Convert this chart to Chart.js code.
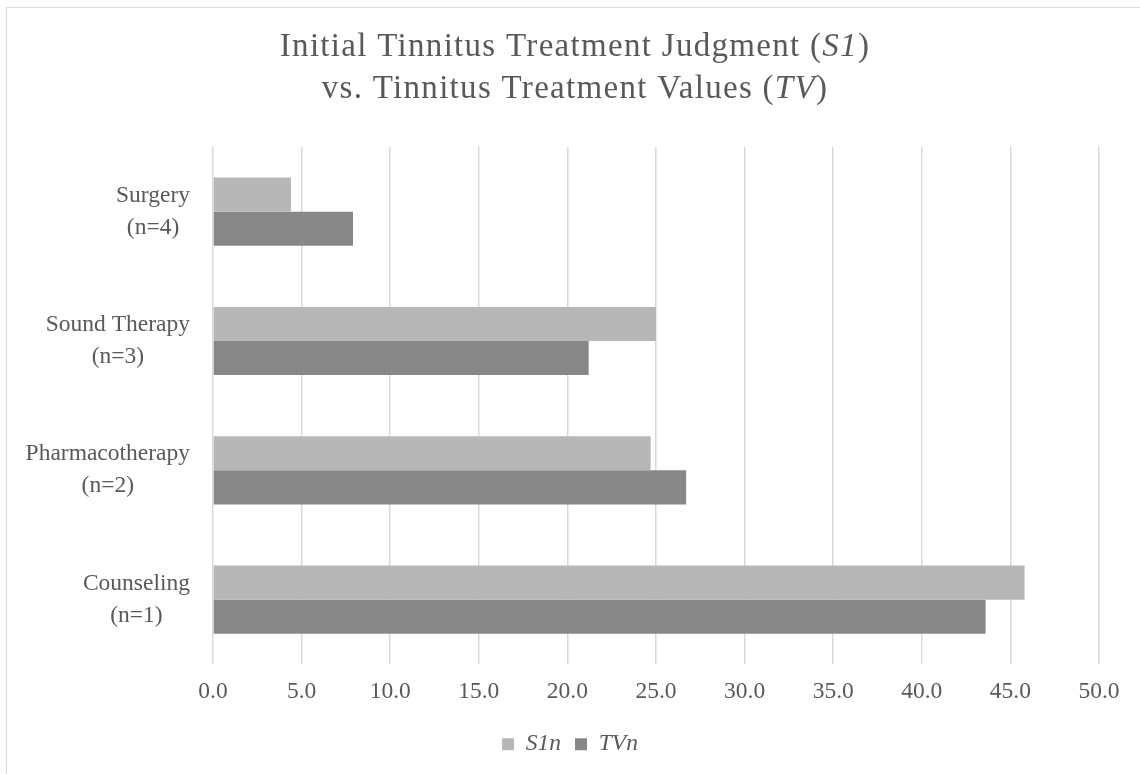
<!DOCTYPE html>
<html>
<head>
<meta charset="utf-8">
<script src="https://cdn.jsdelivr.net/npm/chart.js@4/dist/chart.umd.min.js"></script>
<style>
  html, body { margin: 0; padding: 0; background: #fff; overflow: hidden; }
  #frame { position: absolute; left: 6px; top: 7px; width: 1200px; height: 840px; border: 1.5px solid #d9d9d9; }
  #wrap { position: absolute; left: 0; top: 0; width: 1140px; height: 774px; }
</style>
</head>
<body>
<div id="frame"></div>
<div id="wrap"><canvas id="myChart"></canvas></div>
<script>
const categories = [['Surgery', '(n=4)'], ['Sound Therapy', '(n=3)'], ['Pharmacotherapy', '(n=2)'], ['Counseling', '(n=1)']];
const s1Values = [4.4, 25.0, 24.7, 45.8];
const tvValues = [7.9, 21.2, 26.7, 43.6];
const seriesNames = ['S1n', 'TVn'];
const xTicksMax = 50;
const xTickStep = 5;

const FONT = '"Liberation Serif", "Times New Roman", serif';
const TEXT = '#595959';

// title with italic pieces, drawn on the canvas
const titleLines = [
    [['Initial Tinnitus Treatment Judgment (', 'normal'], ['S1', 'italic'], [')', 'normal']],
    [['vs. Tinnitus Treatment Values (', 'normal'], ['TV', 'italic'], [')', 'normal']]
];

const titlePlugin = {
    id: 'mixedTitle',
    afterDraw(chart) {
        const ctx = chart.ctx;
        ctx.save();
        ctx.fillStyle = TEXT;
        ctx.textBaseline = 'alphabetic';
        ctx.letterSpacing = '1.3px';
        const size = 33;
        const baselines = [56, 98];
        titleLines.forEach((parts, i) => {
            let total = 0;
            parts.forEach(p => {
                ctx.font = p[1] + ' ' + size + 'px ' + FONT;
                total += ctx.measureText(p[0]).width;
            });
            let x = chart.width / 2 + 5 - total / 2;
            parts.forEach(p => {
                ctx.font = p[1] + ' ' + size + 'px ' + FONT;
                ctx.textAlign = 'left';
                ctx.fillText(p[0], x, baselines[i]);
                x += ctx.measureText(p[0]).width;
            });
        });
        ctx.restore();
    }
};

// category labels: block right aligned, lines centred in the block
const catLabelPlugin = {
    id: 'catLabels',
    afterDraw(chart) {
        const ctx = chart.ctx;
        const yScale = chart.scales.y;
        const right = chart.chartArea.left - 23;
        const lh = 32;
        ctx.save();
        ctx.fillStyle = TEXT;
        ctx.font = '23.5px ' + FONT;
        ctx.textAlign = 'center';
        ctx.textBaseline = 'middle';
        categories.forEach((lines, i) => {
            const yc = yScale.getPixelForTick(i);
            const w = Math.max(...lines.map(l => ctx.measureText(l).width));
            const cx = right - w / 2;
            lines.forEach((l, j) => {
                ctx.fillText(l, cx, yc + (j - (lines.length - 1) / 2) * lh);
            });
        });
        ctx.restore();
    }
};

const ctx = document.getElementById('myChart').getContext('2d');

new Chart(ctx, {
    type: 'bar',
    data: {
        labels: categories,
        datasets: [{
            label: seriesNames[0],
            data: s1Values,
            backgroundColor: '#b7b7b7',
            borderWidth: 0
        }, {
            label: seriesNames[1],
            data: tvValues,
            backgroundColor: '#878787',
            borderWidth: 0
        }]
    },
    options: {
        indexAxis: 'y',
        responsive: true,
        maintainAspectRatio: false,
        animation: false,
        datasets: {
            bar: {
                categoryPercentage: 0.527,
                barPercentage: 1.0
            }
        },
        layout: {
            padding: { top: 147, left: 0, right: 0, bottom: 8 }
        },
        scales: {
            x: {
                min: 0,
                max: xTicksMax,
                ticks: {
                    stepSize: xTickStep,
                    padding: 13,
                    color: TEXT,
                    font: { family: FONT, size: 23.5 },
                    callback: v => v.toFixed(1)
                },
                grid: { color: '#d9d9d9', lineWidth: 1.5, drawTicks: false },
                border: { display: false }
            },
            y: {
                ticks: { display: false },
                grid: { display: false },
                border: { display: false },
                afterFit(scale) { scale.width = 213; }
            },
            spacer: {
                type: 'linear',
                position: 'right',
                ticks: { display: false },
                grid: { display: false },
                border: { display: false },
                afterFit(scale) { scale.width = 41; }
            }
        },
        plugins: {
            title: { display: false },
            tooltip: { enabled: false },
            legend: {
                position: 'bottom',
                labels: {
                    boxWidth: 12,
                    boxHeight: 12,
                    color: TEXT,
                    padding: 14,
                    font: { family: FONT, size: 23.5, style: 'italic' }
                }
            }
        }
    },
    plugins: [titlePlugin, catLabelPlugin]
});
</script>
</body>
</html>
